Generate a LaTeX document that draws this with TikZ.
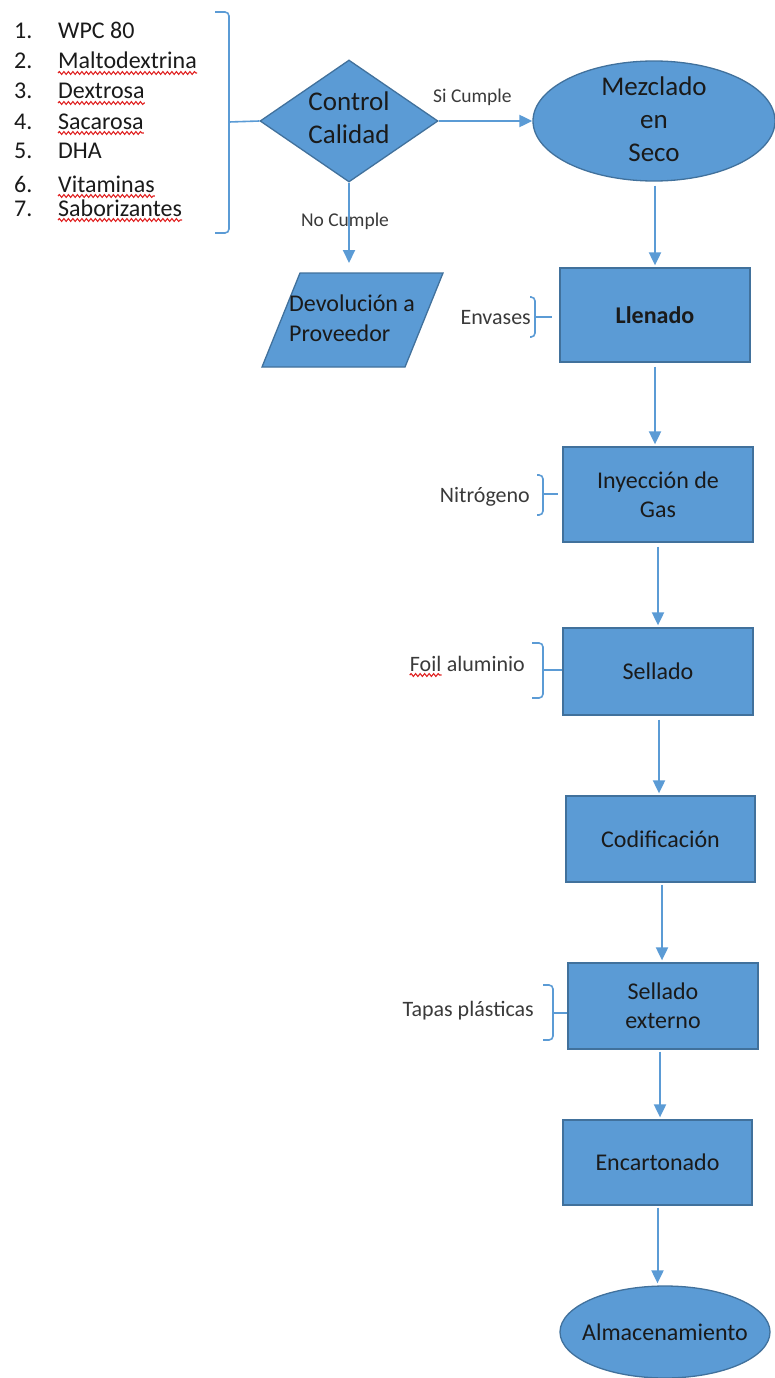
\documentclass[tikz,border=0pt]{standalone}
\usepackage{fontspec}
\setmainfont{Carlito}
\usetikzlibrary{shapes.geometric,arrows.meta,decorations.pathmorphing}
\definecolor{fillb}{HTML}{5B9BD5}
\definecolor{edgeb}{HTML}{41719C}
\definecolor{lineb}{HTML}{5B9BD5}
\definecolor{txt}{HTML}{1A1A1A}
\definecolor{lbl}{HTML}{3A3A3A}
\definecolor{wavered}{HTML}{E02424}
\begin{document}
\begin{tikzpicture}[x=1pt,y=-1pt,
  shp/.style={draw=edgeb, fill=fillb, line width=1.3pt, inner sep=0pt},
  proc/.style={shp, rectangle, minimum width=190pt, text=txt, align=center,
    font=\fontsize{24}{29}\selectfont},
  bigtxt/.style={text=txt, align=center, inner sep=0pt, font=\fontsize{27}{33}\selectfont},
  boxtxt/.style={text=txt, inner sep=0pt, font=\fontsize{24}{30}\selectfont},
  sidelbl/.style={text=lbl, inner sep=0pt, font=\fontsize{22}{26}\selectfont},
  smalllbl/.style={text=lbl, inner sep=0pt, font=\fontsize{19.5}{23}\selectfont},
  listtxt/.style={text=txt, inner sep=0pt, anchor=base west, font=\fontsize{24}{28}\selectfont},
  flow/.style={draw=lineb, line width=2pt, -{Triangle[width=12pt,length=13pt]}},
  brk/.style={draw=lineb, line width=1.6pt, rounded corners=4pt},
  tick/.style={draw=lineb, line width=1.6pt},
  wavy/.style={draw=wavered, line width=1.1pt, decorate, decoration={snake, amplitude=1.4pt, segment length=4.5pt}}
]
\useasboundingbox (0,0) rectangle (774,1378);

% ---------- ingredient list ----------
\foreach \n/\b in {1/39,2/69,3/99,4/129,5/158,6/192,7/216}{
  \node[listtxt] (num\n) at (14,\b) {\n.};
}
\node[listtxt] (i1) at (58,39) {WPC 80};
\node[listtxt] (i2) at (58,69) {Maltodextrina};
\node[listtxt] (i3) at (58,99) {Dextrosa};
\node[listtxt] (i4) at (58,129) {Sacarosa};
\node[listtxt] (i5) at (58,158) {DHA};
\node[listtxt] (i6) at (58,192) {Vitaminas};
\node[listtxt] (i7) at (58,216) {Saborizantes};
\foreach \k in {i2,i3,i4,i6,i7}{
  \draw[wavy] ([yshift=-4pt]\k.base west) -- ([yshift=-4pt]\k.base east);
}

% big bracket
\draw[brk] (215,12) -- (229,12) -- (229,233) -- (215,233);
\coordinate (bigtick) at (229,122);

% ---------- decision ----------
\node[shp, diamond, minimum width=178pt, minimum height=122pt] (dia) at (349,121) {};
\node[bigtxt] (diat) at (349,118) {Control\\Calidad};
\draw[tick] (bigtick) -- (dia.west);

% ---------- mixing ellipse ----------
\node[shp, ellipse, minimum width=242pt, minimum height=120pt] (mez) at (654,121) {};
\node[bigtxt] (mezt) at (654,119) {Mezclado\\en\\Seco};

\draw[flow] (dia.east) -- (mez.west);
\node[smalllbl, anchor=west] (si) at (433,97) {Si Cumple};

% ---------- return parallelogram ----------
\coordinate (pa) at (300,273);
\coordinate (pb) at (443,273);
\coordinate (pc) at (405,367);
\coordinate (pd) at (262,367);
\draw[shp] (pa) -- (pb) -- (pc) -- (pd) -- cycle;
\coordinate (devtop) at (349,273);
\node[boxtxt, align=left, anchor=west] (dev) at (289,318) {Devolución a\\Proveedor};
\draw[flow, shorten >=10pt] (dia.south) -- (devtop);
\node[smalllbl] (no) at (345,221) {No Cumple};

% ---------- process boxes ----------
\node[proc, minimum height=94pt, font=\fontsize{24}{29}\selectfont\bfseries] (lle) at (655,315) {Llenado};
\node[proc, minimum height=95pt] (iny) at (658,494.5) {Inyección de\\Gas};
\node[proc, minimum height=87pt] (sel) at (658,671.5) {Sellado};
\node[proc, minimum width=189pt, minimum height=86pt] (cod) at (660.5,839) {Codificación};
\node[proc, minimum height=86pt] (sex) at (663,1006) {Sellado\\externo};
\node[proc, minimum width=189pt, minimum height=85pt] (enc) at (657.5,1162.5) {Encartonado};
\node[shp, ellipse, minimum width=210pt, minimum height=92pt] (alm) at (665,1332) {};
\node[boxtxt] (almt) at (665,1332) {Almacenamiento};

% ---------- flow arrows ----------
\draw[flow, shorten <=4pt, shorten >=2pt] (mez.south -| lle.north) -- (lle.north);
\draw[flow, shorten <=4pt, shorten >=2pt] (lle.south) -- (lle.south |- iny.north);
\draw[flow, shorten <=4pt, shorten >=2pt] (iny.south) -- (iny.south |- sel.north);
\draw[flow, shorten <=4pt, shorten >=2pt] ([xshift=1pt]sel.south) -- ([xshift=1pt]sel.south |- cod.north);
\draw[flow, shorten <=2pt, shorten >=2pt] ([xshift=1.5pt]cod.south) -- ([xshift=1.5pt]cod.south |- sex.north);
\draw[flow, shorten <=2pt, shorten >=2pt] ([xshift=-3pt]sex.south) -- ([xshift=-3pt]sex.south |- enc.north);
\draw[flow, shorten <=2pt, shorten >=2pt] (enc.south) -- (enc.south |- alm.north);

% ---------- side inputs ----------
\node[sidelbl, anchor=east] (env) at (531,318) {Envases};
\draw[brk] (530,297) -- (535,297) -- (535,337) -- (530,337);
\coordinate (envtick) at (535,317);
\draw[tick, shorten >=7pt] (envtick) -- (lle.west |- envtick);

\node[sidelbl, anchor=east] (nit) at (530,497) {Nitrógeno};
\draw[brk] (537,475) -- (543,475) -- (543,515) -- (537,515);
\coordinate (nittick) at (543,494);
\draw[tick, shorten >=4pt] (nittick) -- (iny.west |- nittick);

\node[sidelbl, anchor=base east] (alu) at (525,671) {aluminio};
\node[sidelbl, anchor=base east] (foil) at ([xshift=-5pt]alu.base west) {Foil};
\draw[wavy] ([yshift=-4pt]foil.base west) -- ([yshift=-4pt]foil.base east);
\draw[brk] (532,643) -- (543,643) -- (543,698) -- (532,698);
\coordinate (foiltick) at (543,670);
\draw[tick] (foiltick) -- (sel.west |- foiltick);

\node[sidelbl, anchor=east] (tap) at (534,1011) {Tapas plásticas};
\draw[brk] (543,985) -- (553,985) -- (553,1040) -- (543,1040);
\coordinate (taptick) at (553,1013);
\draw[tick] (taptick) -- (sex.west |- taptick);
\end{tikzpicture}
\end{document}
